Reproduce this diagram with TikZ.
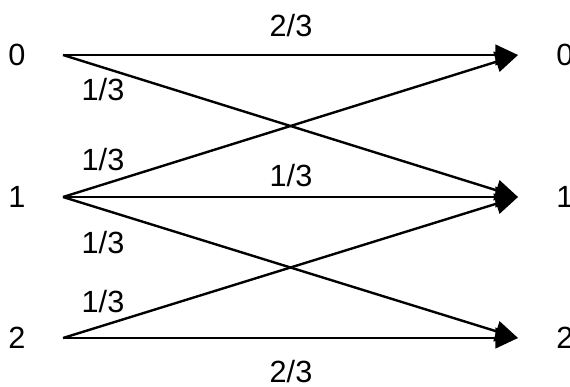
\documentclass[tikz,border=0pt]{standalone}
\usepackage{fontspec}
\setmainfont{Liberation Sans}
\usetikzlibrary{arrows.meta}
\begin{document}
\begin{tikzpicture}[x=0.75pt,y=-0.75pt,
  lbl/.style={inner sep=0pt,font=\fontsize{23}{27}\selectfont},
  edge/.style={line width=1.8pt,-{Triangle[length=17pt,width=15.5pt]}}]
\useasboundingbox (0,0) rectangle (570,386);
% input and output symbols
\node[lbl] (in0) at (17,55) {0};
\node[lbl] (in1) at (17,197) {1};
\node[lbl] (in2) at (17,338) {2};
\node[lbl] (out0) at (565,55) {0};
\node[lbl] (out1) at (565,197) {1};
\node[lbl] (out2) at (565,338) {2};
% line end points
\coordinate (a0) at (63,55);
\coordinate (a1) at (63,197);
\coordinate (a2) at (63,338);
\coordinate (b0) at (518,55);
\coordinate (b1) at (518,197);
\coordinate (b2) at (518,338);
% transitions
\draw[edge] (a0) -- (b0);
\draw[edge] (a0) -- (b1);
\draw[edge] (a1) -- (b0);
\draw[edge] (a1) -- (b1);
\draw[edge] (a1) -- (b2);
\draw[edge] (a2) -- (b1);
\draw[edge] (a2) -- (b2);
% transition probabilities
\node[lbl] (p00) at (291,26) {2/3};
\node[lbl] (p01) at (103,90) {1/3};
\node[lbl] (p10) at (103,160) {1/3};
\node[lbl] (p11) at (291,176) {1/3};
\node[lbl] (p12) at (103,243) {1/3};
\node[lbl] (p21) at (103,302) {1/3};
\node[lbl] (p22) at (291,372) {2/3};
\end{tikzpicture}
\end{document}
